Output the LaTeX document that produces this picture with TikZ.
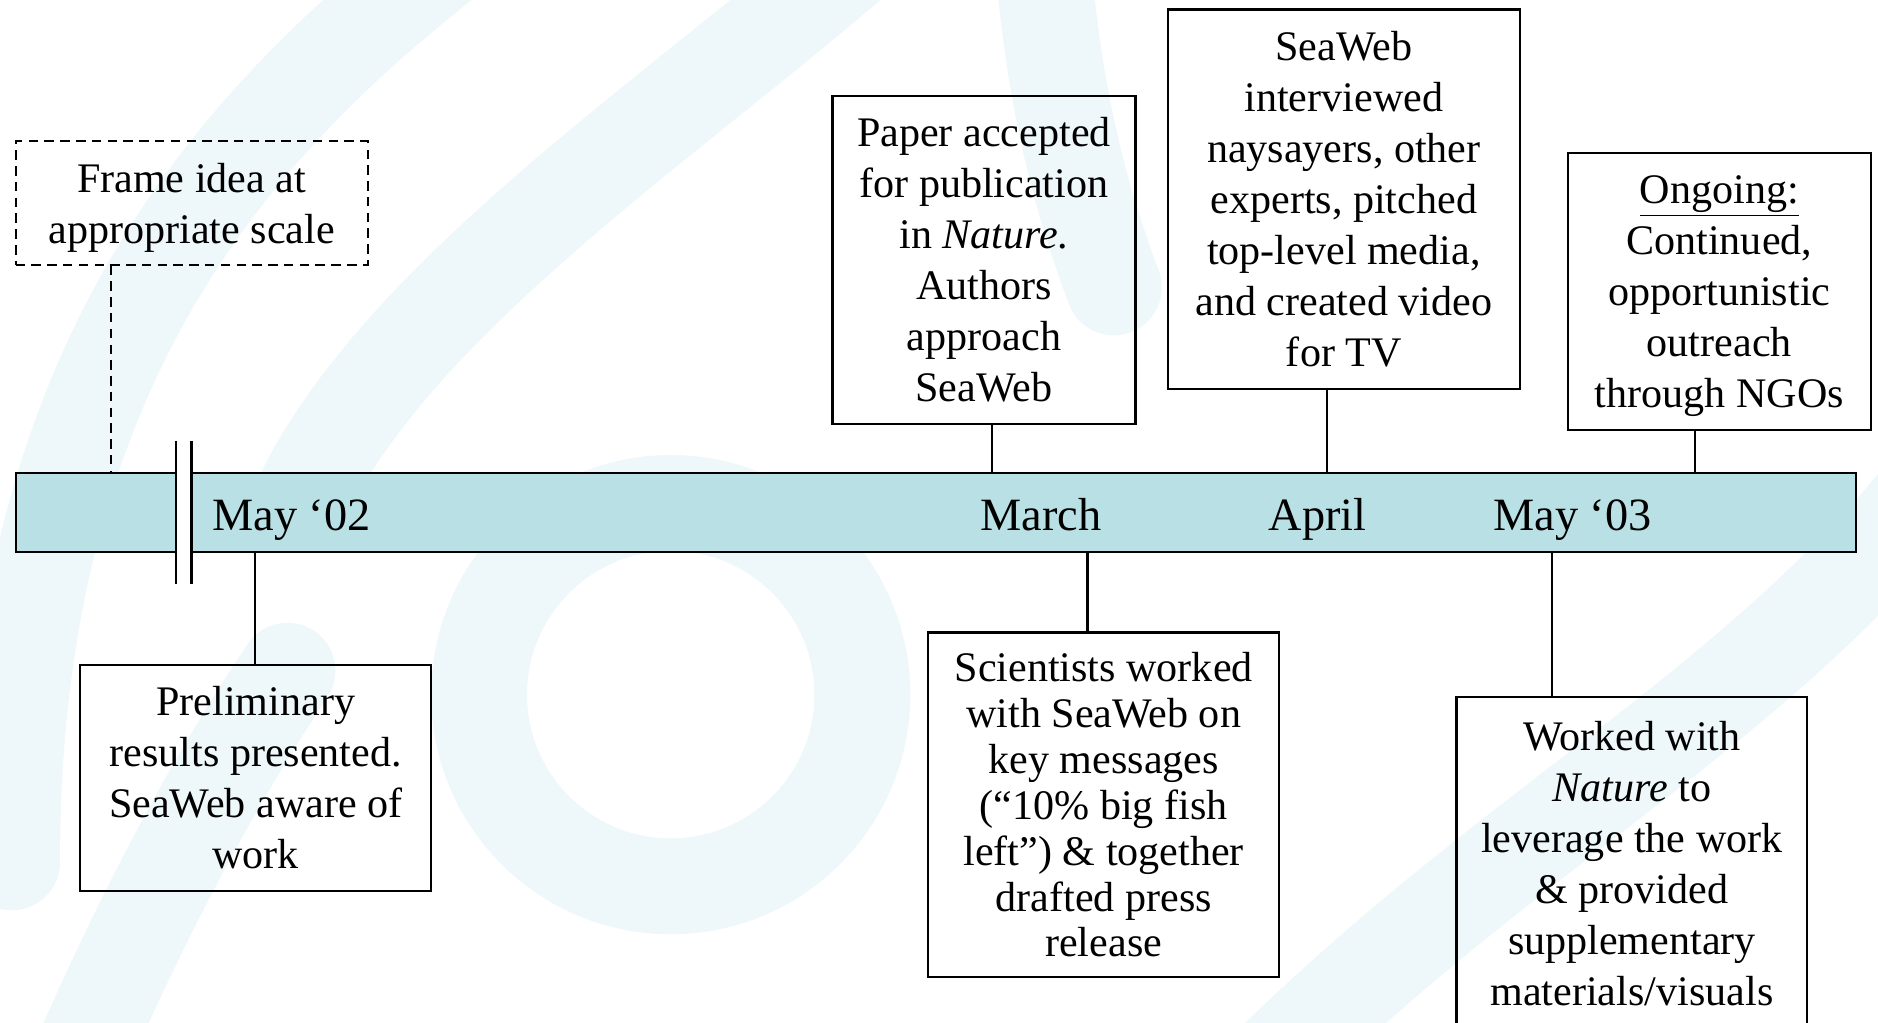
\documentclass[tikz,border=0pt]{standalone}
\usepackage{fontspec}
\setmainfont{Liberation Serif}
\usetikzlibrary{positioning}
\definecolor{barfill}{RGB}{185,224,228}
\definecolor{wm}{RGB}{238,247,249}
\tikzstyle{bx}=[draw=black,line width=1.1pt,align=center,inner sep=2pt,font=\fontsize{20}{24.2}\selectfont]
\tikzstyle{dbx}=[bx,line width=0.9pt,dash pattern=on 4.5pt off 3pt]
\tikzstyle{lnk}=[line width=1.1pt]
\tikzstyle{dlnk}=[line width=0.9pt,dash pattern=on 4.5pt off 3pt]
\tikzstyle{mon}=[inner sep=0pt,font=\fontsize{22}{26}\selectfont]
\tikzstyle{swirl}=[wm,line width=1.6cm,line cap=round]

\begin{document}
\begin{tikzpicture}[x=0.02cm,y=-0.02cm]
\clip (0,0) rectangle (1568,854);
\fill[white] (0,0) rectangle (1568,854);
\draw[swirl] (380,-40) .. controls (200,100) and (10,300) .. (10,720);
\draw[swirl] (720,-40) .. controls (560,100) and (330,250) .. (250,420);
\draw[swirl] (560,580) ellipse (160 and 160);
\draw[swirl] (60,900) .. controls (120,760) and (180,650) .. (240,560);
\draw[swirl] (1050,900) .. controls (1250,700) and (1450,600) .. (1600,420);
\draw[swirl] (870,-40) .. controls (880,80) and (900,160) .. (930,240);

\node[bx,fill=barfill,minimum width=30.74cm,minimum height=1.32cm] (bar) at (781.5,428) {};
\fill[white] (147,368) rectangle (160,488);
\draw[lnk] (147,368) -- (147,488);
\draw[lnk] (160,368) -- (160,488);

\node[mon,anchor=base west] (may02) at (177,443) {May ‘02};
\node[mon,anchor=base] (mar) at (869,443) {March};
\node[mon,anchor=base] (apr) at (1100,443) {April};
\node[mon,anchor=base] (may03) at (1313,443) {May ‘03};

\node[dbx,text depth=0pt,minimum width=5.88cm,minimum height=2.06cm] (frame) at (160,169.5) {Frame idea at\\appropriate scale};
\node[bx,minimum width=5.86cm,minimum height=3.78cm] (prelim) at (213.5,649.5) {Preliminary\\results presented.\\SeaWeb aware of\\work};
\node[bx,minimum width=5.06cm,minimum height=5.48cm] (paper) at (821.5,217) {Paper accepted\\for publication\\in \textit{Nature}.\\Authors\\approach\\SeaWeb};
\node[bx,minimum width=5.88cm,minimum height=6.34cm] (naysay) at (1122,166.5) {SeaWeb\\interviewed\\naysayers, other\\experts, pitched\\top-level media,\\and created video\\for TV};
\node[bx,text depth=0pt,minimum width=5.06cm,minimum height=4.62cm] (ongoing) at (1435.5,243.5) {\underline{Ongoing:}\\Continued,\\opportunistic\\outreach\\through NGOs};
\node[bx,font=\fontsize{20}{21.8}\selectfont,minimum width=5.86cm,minimum height=5.76cm] (sci) at (921.5,672) {Scientists worked\\with SeaWeb on\\key messages\\(``10\% big fish\\left'') \& together\\drafted press\\release};
\node[bx,minimum width=5.86cm,minimum height=5.56cm] (natwork) at (1362.5,721) {Worked with\\\textit{Nature} to\\leverage the work\\\& provided\\supplementary\\materials/visuals};

\coordinate (t0) at (93,0);
\coordinate (t1) at (213,0);
\coordinate (t2) at (828,0);
\coordinate (t3) at (908,0);
\coordinate (t4) at (1108,0);
\coordinate (t5) at (1296,0);
\coordinate (t6) at (1415,0);

\draw[dlnk] (t0 |- frame.south) -- (t0 |- bar.north);
\draw[lnk] (t1 |- bar.south) -- (t1 |- prelim.north);
\draw[lnk] (t2 |- paper.south) -- (t2 |- bar.north);
\draw[lnk] (t3 |- bar.south) -- (t3 |- sci.north);
\draw[lnk] (t4 |- naysay.south) -- (t4 |- bar.north);
\draw[lnk] (t5 |- bar.south) -- (t5 |- natwork.north);
\draw[lnk] (t6 |- ongoing.south) -- (t6 |- bar.north);
\end{tikzpicture}
\end{document}
